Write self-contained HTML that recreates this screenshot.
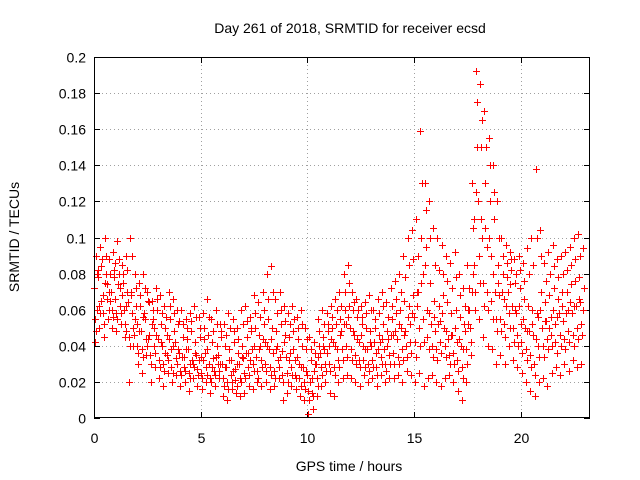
<!DOCTYPE html>
<html><head><meta charset="utf-8"><style>
body{margin:0;background:#fff}
svg{display:block;font-family:"Liberation Sans",sans-serif}
</style></head><body>
<svg id="chart" width="640" height="480">
</svg>
<script>
const hours=[];for(let i=0;i<=115;i++)hours.push(i*0.2);
const seriesCenter=[72,78,68,74,70,66,72,60,64,58,52,48,55,46,50,44,40,46,38,42,36,34,38,32,35,34,36,30,33,35,30,28,32,27,30,33,36,38,34,40,42,38,36,40,37,34,36,32,30,28,24,22,30,36,38,40,42,38,48,52,50,46,42,40,38,40,36,42,38,44,46,44,50,48,52,56,70,80,60,52,48,54,50,44,46,42,40,48,60,110,120,100,95,90,70,68,66,70,62,58,52,50,48,46,56,50,54,56,52,58,54,60,58,62,64,60];
const seriesHigh=[90,95,100,88,92,98,85,90,100,80,75,80,70,65,72,68,62,70,66,60,60,55,58,62,56,58,66,55,60,52,52,58,55,50,60,62,56,68,64,70,80,84,66,70,62,58,62,56,60,50,45,42,55,60,58,62,66,70,80,85,70,66,62,64,68,60,66,70,64,72,76,80,90,100,104,110,159,130,120,105,100,96,90,86,92,80,72,85,130,192,185,170,155,140,120,100,96,92,88,90,86,94,100,138,104,86,92,96,88,90,92,95,100,102,94,92];
const seriesLow=[42,50,45,55,50,48,52,45,20,40,30,25,35,20,28,22,18,25,20,24,18,20,15,22,18,16,20,14,18,22,12,10,16,14,12,14,18,16,20,18,20,16,18,22,10,14,18,16,12,10,2,5,12,18,20,14,12,20,22,24,22,20,18,24,20,22,18,24,20,22,22,24,20,26,24,20,25,18,22,24,20,18,22,24,20,15,10,20,35,60,55,45,40,38,30,35,30,40,32,28,25,20,15,12,20,22,18,25,28,24,30,26,32,28,30,28];
const seriesMidHigh=[60,84,80,65,78,80,75,70,68,62,62,58,65,55,60,52,50,55,48,52,45,44,48,42,45,44,46,42,40,45,40,38,42,36,40,45,48,50,46,52,55,50,48,52,46,45,48,44,40,38,32,30,40,45,48,50,52,55,60,62,60,56,52,50,48,50,46,52,48,55,58,60,65,62,68,70,100,95,75,65,62,68,64,58,60,56,52,60,80,150,150,130,120,110,85,80,78,82,75,72,66,62,60,58,70,64,68,72,66,70,70,74,76,78,72,75];
const seriesMidLow=[55,62,58,66,60,58,62,52,45,50,40,38,44,35,40,32,30,35,28,33,26,28,25,30,27,25,28,22,26,30,22,20,24,21,22,25,28,30,26,32,30,28,26,32,24,25,28,24,22,20,15,14,22,28,30,30,28,32,38,40,38,35,32,32,30,32,28,34,30,35,36,34,38,40,42,42,50,55,45,40,38,42,40,35,36,32,28,38,50,85,90,75,70,65,55,55,52,58,50,46,42,38,35,30,40,40,44,46,42,46,44,48,46,50,52,48];
const seriesExtraA=[80,65,75,70,82,74,68,62,70,55,48,56,44,52,46,42,36,44,40,38,34,38,30,36,32,32,38,28,34,30,28,32,26,30,34,36,32,40,38,44,40,44,38,34,42,32,38,34,28,26,20,26,34,40,36,44,40,46,52,56,48,44,46,38,42,42,38,44,40,46,48,52,46,56,58,62,75,85,58,56,52,58,48,46,50,44,38,52,70,125,110,105,100,80,75,70,62,74,60,62,55,48,52,44,60,54,50,60,56,62,58,64,62,66,60,62];
const seriesExtraB=[48,58,52,60,56,55,58,48,40,46,36,34,40,30,36,28,26,32,25,30,24,26,22,28,24,22,24,20,24,26,18,16,20,18,20,22,24,26,22,28,26,24,22,28,20,20,24,22,18,16,10,12,18,24,26,26,24,28,32,34,32,30,28,28,26,28,24,30,26,30,30,30,32,34,36,34,40,42,38,34,32,36,34,30,30,26,22,30,42,70,75,62,60,55,48,48,45,50,42,40,36,32,28,24,34,34,38,40,36,40,38,42,40,44,46,42];
const seriesExtraC=[82,88,90,80,86,88,80,82,90,72,68,72,64,60,66,58,56,62,58,54,52,50,54,56,50,50,56,48,52,48,46,50,48,44,52,54,50,58,56,60,66,70,58,60,54,52,55,50,52,44,38,36,48,52,52,56,60,62,70,75,64,60,56,58,60,55,58,62,56,62,66,70,78,85,88,90,130,115,100,85,82,80,76,72,78,68,62,72,105,175,165,150,140,125,100,90,86,88,80,82,76,80,85,100,90,76,80,84,78,80,82,85,88,90,84,82];
const xTicks=[0,5,10,15,20];
const yTicks=[0,0.02,0.04,0.06,0.08,0.1,0.12,0.14,0.16,0.18,0.2];
const L=94,R=590,T=57,B=418,XMAX=23.25,YMAX=0.2;
const X=v=>L+v/XMAX*(R-L), Y=v=>B-v/YMAX*(B-T);
const NS="http://www.w3.org/2000/svg", svg=document.getElementById('chart');
function mk(t,a,p){const e=document.createElementNS(NS,t);for(const k in a)e.setAttribute(k,a[k]);(p||svg).appendChild(e);return e;}
const grid=mk('g',{stroke:'#a0a0a0','stroke-width':1,'stroke-dasharray':'1,3','shape-rendering':'crispEdges'});


const axes=mk('g',{stroke:'#000','stroke-width':1,'shape-rendering':'crispEdges'});


yTicks.forEach((v,i)=>{const y=Math.round(Y(v))+0.5;
 if(i>0&&i<yTicks.length-1)mk('line',{x1:L,x2:R,y1:y,y2:y},grid);
 mk('line',{x1:L,x2:L+6,y1:y,y2:y},axes);mk('line',{x1:R,x2:R-6,y1:y,y2:y},axes);
 const t=mk('text',{x:L-8,y:y+5,'text-anchor':'end','font-size':14});t.textContent=String(v);
 
 });
xTicks.forEach((v,i)=>{const x=Math.round(X(v))+0.5;
 if(i>0)mk('line',{x1:x,x2:x,y1:T,y2:B},grid);
 mk('line',{x1:x,x2:x,y1:B,y2:B-6},axes);mk('line',{x1:x,x2:x,y1:T,y2:T+6},axes);
 const t=mk('text',{x:x,y:B+25,'text-anchor':'middle','font-size':14});t.textContent=String(v);
 
 });
const pts=mk('g',{fill:'#ff0000'});


const offs=[0,0.1,0.05,0.15,0.03,0.12,0.08,0.17];
[seriesCenter,seriesHigh,seriesLow,seriesMidHigh,seriesMidLow,seriesExtraA,seriesExtraB,seriesExtraC].forEach((s,si)=>{
 s.forEach((v,i)=>{const h=hours[i]+offs[si];if(h>22.95)return;
  const x=Math.round(X(h)),y=Math.round(Y(v/1000));
  const c=mk('path',{d:`M${x-3},${y}h7v1h-7zM${x},${y-3}h1v7h-1z`},pts);
  
  });});
const fr=mk('rect',{x:L+0.5,y:T+0.5,width:R-L-1,height:B-T-1,fill:'none',stroke:'#000','shape-rendering':'crispEdges'});


let t=mk('text',{x:350,y:33,'text-anchor':'middle','font-size':14});t.textContent='Day 261 of 2018, SRMTID for receiver ecsd';


t=mk('text',{x:349,y:471,'text-anchor':'middle','font-size':14});t.textContent='GPS time / hours';


t=mk('text',{x:19,y:237,'text-anchor':'middle','font-size':14,transform:'rotate(-90 19 237)'});t.textContent='SRMTID / TECUs';


</script>
</body></html>
